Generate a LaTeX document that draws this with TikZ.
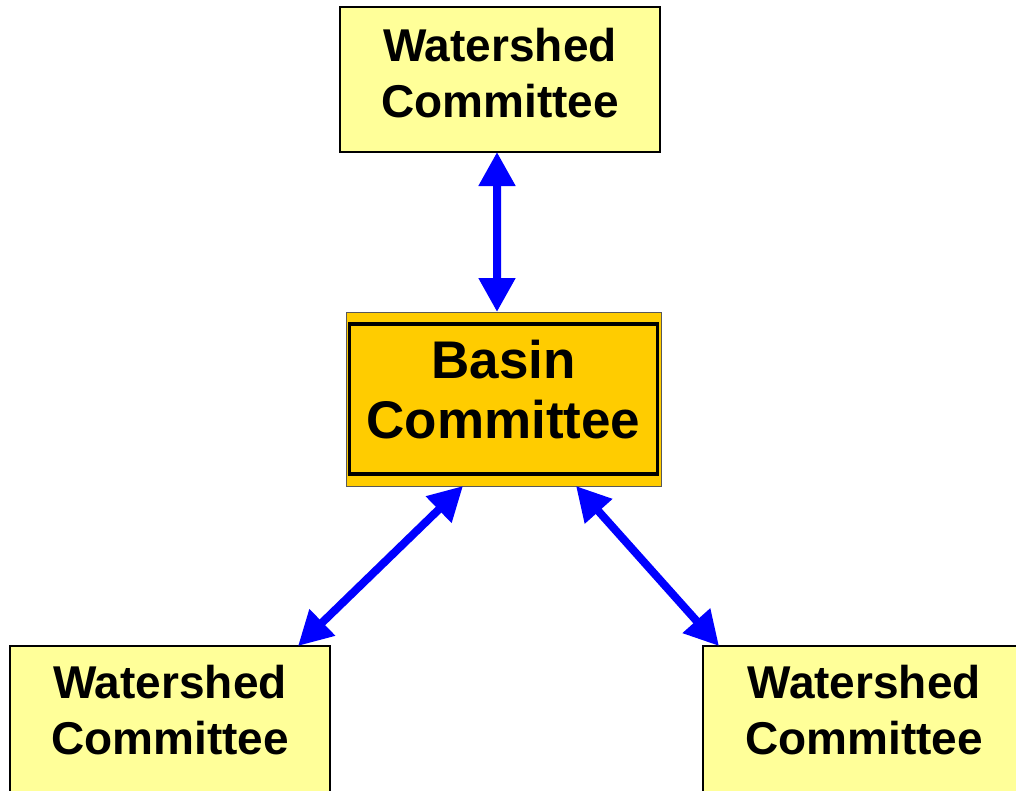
\documentclass[tikz,border=0pt]{standalone}
\usepackage{fontspec}
\setmainfont{Liberation Sans}
\usetikzlibrary{arrows.meta}
\definecolor{paleyellow}{HTML}{FFFF99}
\definecolor{amber}{HTML}{FFCC00}
\definecolor{linkblue}{HTML}{0000FF}
\begin{document}
\begin{tikzpicture}[x=1bp,y=-1bp,
  wbox/.style={draw=black, line width=1.6bp, fill=paleyellow, outer sep=0pt,
    align=center, inner sep=0pt, minimum width=320bp,
    font=\fontsize{46bp}{56bp}\selectfont\bfseries},
  bbox/.style={draw=black!65, line width=1bp, fill=amber, outer sep=0pt,
    align=center, inner sep=0pt, minimum width=315bp, minimum height=174bp,
    text depth=20bp, font=\fontsize{53bp}{60bp}\selectfont\bfseries},
  conn/.style={draw=linkblue, line width=8bp,
    {Triangle[length=34bp,width=35bp]}-{Triangle[length=34bp,width=35bp]}}]
\useasboundingbox (0,0) rectangle (1016,791);

% committees
\node[wbox, minimum height=145bp, text depth=14bp] (top) at (500,79.5) {Watershed\\Committee};
\node[bbox] (basin) at (503.5,399) {Basin\\Committee};
\draw[line width=3.5bp] ([xshift=3.5bp,yshift=-12bp]basin.north west)
  rectangle ([xshift=-3.5bp,yshift=12bp]basin.south east);
\node[wbox, minimum height=170bp, text depth=42bp] (left) at (170,731) {Watershed\\Committee};
\node[wbox, minimum width=322bp, minimum height=170bp, text depth=42bp] (right) at (864,731) {Watershed\\Committee};

% connector end points on the box edges
\coordinate (topA) at ([xshift=-3bp]top.south);
\coordinate (basinA) at ([xshift=-6.5bp]basin.north);
\coordinate (basinL) at ([xshift=-40.5bp]basin.south);
\coordinate (basinR) at ([xshift=72.5bp]basin.south);
\coordinate (leftA) at ([xshift=-32bp]left.north east);
\coordinate (rightA) at ([xshift=16bp]right.north west);

% links
\draw[conn] (topA) -- (basinA);
\draw[conn] (basinL) -- (leftA);
\draw[conn] (basinR) -- (rightA);
\end{tikzpicture}
\end{document}
